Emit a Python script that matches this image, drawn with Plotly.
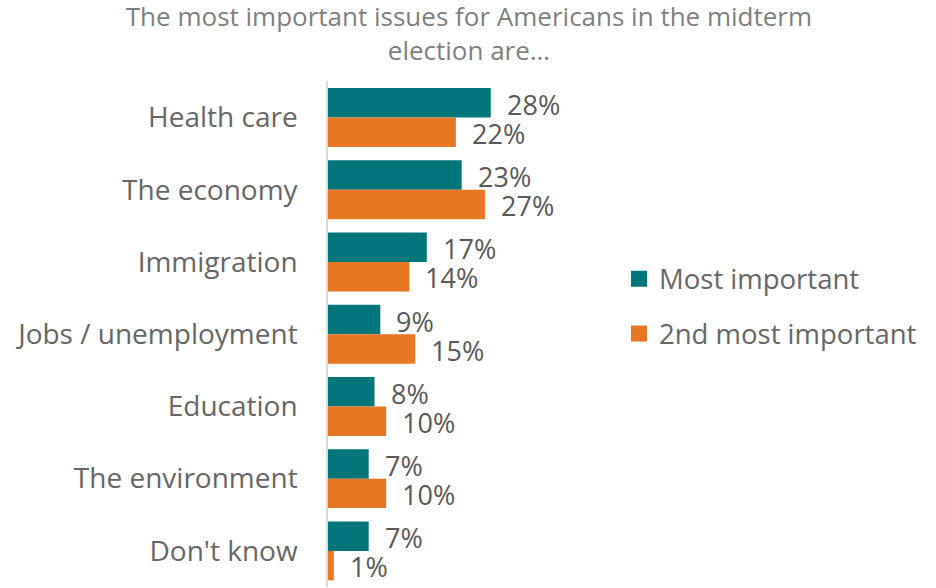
import plotly.graph_objects as go

# Survey results: share naming each issue as most / second most important
categories = ["Health care", "The economy", "Immigration", "Jobs / unemployment",
              "Education", "The environment", "Don't know"]
most_important = [28, 23, 17, 9, 8, 7, 7]
second_most = [22, 27, 14, 15, 10, 10, 1]
series_names = ["Most important", "2nd most important"]

TEAL = "#00767B"
ORANGE = "#E87722"
FONT = "Open Sans"

fig = go.Figure()
fig.add_trace(go.Bar(y=categories, x=most_important, orientation="h",
                     marker=dict(color=TEAL, line=dict(width=0)),
                     name=series_names[0], showlegend=False, hoverinfo="x+y"))
fig.add_trace(go.Bar(y=categories, x=second_most, orientation="h",
                     marker=dict(color=ORANGE, line=dict(width=0)),
                     name=series_names[1], showlegend=False, hoverinfo="x+y"))

# Legend entries drawn as square markers
for name, col, grp in [(series_names[0], TEAL, "a"), (series_names[1], ORANGE, "b")]:
    fig.add_trace(go.Scatter(x=[None], y=[None], mode="markers", name=name,
                             legendgroup=grp,
                             marker=dict(symbol="square", size=16, color=col,
                                         line=dict(width=0))))

# Value labels beside each bar
annotations = []
for vals, shift in [(most_important, 13), (second_most, -16)]:
    for cat, v in zip(categories, vals):
        annotations.append(dict(x=v, y=cat, xref="x", yref="y", text=f"{v}%",
                                showarrow=False, xanchor="left", yanchor="middle",
                                xshift=14, yshift=shift,
                                font=dict(family=FONT, size=27, color="#595959")))

fig.update_layout(
    width=936, height=588,
    margin=dict(l=328, r=336, t=81, b=1),
    paper_bgcolor="white", plot_bgcolor="white",
    barmode="group", bargap=0.184, bargroupgap=0,
    title=dict(text="The most important issues for Americans in the midterm<br>election are…",
               x=0.501, xref="container", xanchor="center",
               y=0.956, yref="container", yanchor="top",
               font=dict(family=FONT, size=26, color="#7F7F7F")),
    xaxis=dict(range=[0, 46.8], visible=False, fixedrange=True),
    yaxis=dict(categoryorder="array", categoryarray=categories, autorange="reversed",
               showline=True, linecolor="#D9D9D9", linewidth=1.5,
               showgrid=False, ticks="", ticklabelstandoff=23,
               tickfont=dict(family=FONT, size=28, color="#666666")),
    legend=dict(x=619 / 936, xref="container", y=0.479, yref="container",
                yanchor="middle", xanchor="left", traceorder="grouped",
                tracegroupgap=16,
                font=dict(family=FONT, size=27.5, color="#666666"),
                bgcolor="rgba(0,0,0,0)", borderwidth=0),
    annotations=annotations,
    showlegend=True,
)

fig.write_html("out.html")
